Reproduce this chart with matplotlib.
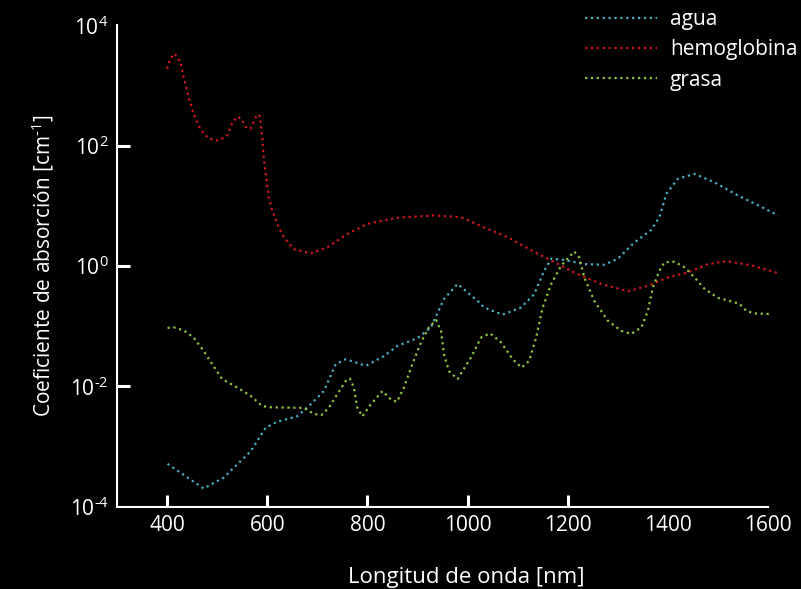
import matplotlib
matplotlib.use("Agg")
import matplotlib.pyplot as plt
import numpy as np

plt.rcParams['font.family'] = ['Open Sans', 'DejaVu Sans']
plt.rcParams['mathtext.fontset'] = 'custom'
plt.rcParams['mathtext.rm'] = 'Open Sans'
plt.rcParams['mathtext.it'] = 'Open Sans'

# ---- data (wavelength nm, log10 absorption coefficient cm^-1) ----
agua_x = [401, 473, 513, 567, 597, 620, 660, 687, 713, 737, 757, 797, 833, 860, 900,
          927, 953, 980, 1020, 1033, 1070, 1107, 1133, 1153, 1167, 1193, 1233, 1273,
          1300, 1333, 1367, 1383, 1397, 1420, 1453, 1493, 1540, 1587, 1620]
agua_log = [-3.29, -3.70, -3.52, -3.08, -2.69, -2.59, -2.50, -2.30, -2.08, -1.63, -1.55,
            -1.66, -1.50, -1.33, -1.20, -1.02, -0.55, -0.30, -0.58, -0.69, -0.81, -0.69,
            -0.47, -0.08, 0.12, 0.10, 0.03, 0.02, 0.12, 0.39, 0.60, 0.81, 1.20, 1.45,
            1.53, 1.39, 1.17, 0.98, 0.84]

hemo_x = [400, 407, 415, 427, 433, 443, 453, 467, 483, 503, 520, 530, 540, 548, 557,
          567, 575, 580, 585, 590, 593, 598, 603, 610, 620, 633, 653, 687, 720, 760,
          800, 860, 933, 987, 1033, 1080, 1127, 1167, 1213, 1267, 1320, 1360, 1400,
          1440, 1480, 1517, 1567, 1620]
hemo_log = [3.28, 3.45, 3.53, 3.39, 3.14, 2.81, 2.53, 2.26, 2.12, 2.08, 2.17, 2.37,
            2.48, 2.45, 2.31, 2.28, 2.43, 2.52, 2.49, 2.14, 1.81, 1.48, 1.14, 0.92,
            0.70, 0.48, 0.28, 0.21, 0.31, 0.53, 0.70, 0.80, 0.84, 0.81, 0.64, 0.48,
            0.26, 0.09, -0.11, -0.30, -0.42, -0.33, -0.19, -0.11, 0.03, 0.08, 0.01, -0.12]

grasa_x = [401, 413, 433, 453, 473, 490, 510, 540, 567, 590, 607, 673, 693, 708, 723,
           740, 757, 765, 773, 780, 790, 807, 830, 847, 859, 873, 890, 907, 923, 937,
           947, 953, 963, 980, 1007, 1027, 1045, 1067, 1090, 1108, 1123, 1137, 1150,
           1167, 1187, 1213, 1223, 1233, 1253, 1280, 1307, 1327, 1347, 1360, 1370,
           1383, 1393, 1413, 1433, 1453, 1473, 1500, 1527, 1543, 1557, 1573, 1607]
grasa_log = [-1.03, -1.02, -1.07, -1.19, -1.41, -1.63, -1.88, -2.02, -2.16, -2.33, -2.35,
             -2.36, -2.46, -2.48, -2.36, -2.13, -1.91, -1.87, -2.02, -2.36, -2.50, -2.30,
             -2.08, -2.22, -2.26, -2.02, -1.63, -1.27, -1.02, -0.90, -1.08, -1.47, -1.75,
             -1.88, -1.52, -1.19, -1.12, -1.27, -1.55, -1.69, -1.58, -1.19, -0.69, -0.30,
             0.005, 0.24, 0.14, -0.19, -0.58, -0.91, -1.08, -1.13, -1.02, -0.75, -0.36,
             -0.08, 0.06, 0.07, -0.02, -0.19, -0.38, -0.53, -0.59, -0.63, -0.75, -0.79, -0.80]

series_names = ['agua', 'hemoglobina', 'grasa']
series_colors = ['#4bacc6', '#d0181e', '#8fc43f']

x_ticks = [400, 600, 800, 1000, 1200, 1400, 1600]
y_ticks = [1e-4, 1e-2, 1e0, 1e2, 1e4]
y_ticklabels = ['$\\mathregular{10^{\u20104}}$', '$\\mathregular{10^{\u20102}}$',
                r'$\mathregular{10^{0}}$', r'$\mathregular{10^{2}}$', r'$\mathregular{10^{4}}$']

fig = plt.figure(figsize=(8.01, 5.89), dpi=100)
fig.patch.set_facecolor('black')
ax = fig.add_axes([0.146, 0.140, 0.8285, 0.817])
ax.set_facecolor('black')

data = [(agua_x, agua_log), (hemo_x, hemo_log), (grasa_x, grasa_log)]
for (xs, ls), name, col in zip(data, series_names, series_colors):
    ax.plot(xs, 10 ** np.array(ls), linestyle=':', color=col, linewidth=1.6,
            label=name, clip_on=False)

ax.set_yscale('log')
ax.set_xlim(300, 1625)
ax.set_ylim(1e-4, 1e4)

for s in ['top', 'right']:
    ax.spines[s].set_visible(False)
for s in ['left', 'bottom']:
    ax.spines[s].set_color('white')
    ax.spines[s].set_linewidth(1.5)
ax.spines['bottom'].set_bounds(300, 1600)

ax.set_xticks(x_ticks)
ax.set_xticklabels([str(v) for v in x_ticks])
ax.set_yticks(y_ticks)
ax.set_yticklabels(y_ticklabels)
ax.yaxis.set_minor_locator(matplotlib.ticker.NullLocator())
ax.tick_params(axis='both', which='major', direction='in', length=9, width=2.2,
               colors='white', labelsize=15, pad=6)
for t in ax.xaxis.get_major_ticks()[-2:]:
    t.tick1line.set_visible(False)
yt = ax.yaxis.get_major_ticks()
yt[0].tick1line.set_visible(False)
yt[-1].tick1line.set_visible(False)

ax.set_xlabel('Longitud de onda [nm]', color='white', fontsize=16)
ax.xaxis.set_label_coords(0.527, -0.125)
ax.set_ylabel('Coeficiente de absorción [cm$^{\\mathregular{\u20101}}$]', color='white',
              fontsize=15, labelpad=10)

leg = ax.legend(loc='upper left', bbox_to_anchor=(585 / 801, 1 - 9 / 589),
                bbox_transform=fig.transFigure, frameon=False, fontsize=15,
                handlelength=3.45, handletextpad=0.62, labelspacing=0.45,
                borderpad=0, borderaxespad=0)
for t in leg.get_texts():
    t.set_color('white')

fig.savefig('out.png', dpi=100, facecolor='black')
